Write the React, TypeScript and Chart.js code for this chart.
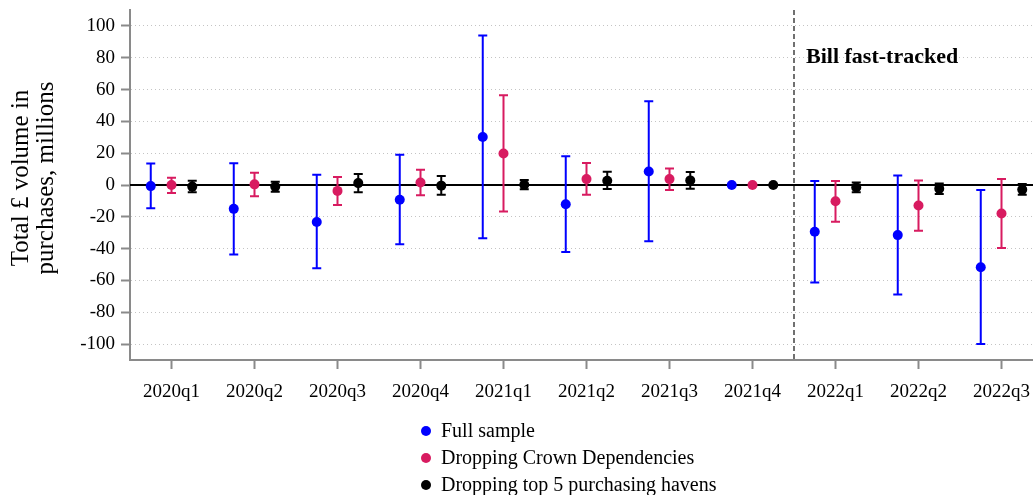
import React, { useEffect, useRef } from "react";
import { Chart, registerables } from "chart.js";

Chart.register(...registerables);

const categories = ["2020q1", "2020q2", "2020q3", "2020q4", "2021q1", "2021q2", "2021q3", "2021q4", "2022q1", "2022q2", "2022q3"];

const fullEst = [-0.7, -15, -23.3, -9.3, 30.2, -12.1, 8.5, 0, -29.4, -31.5, -51.7];
const fullHi = [13.5, 13.7, 6.4, 19, 93.9, 18.1, 52.7, 0, 2.5, 6, -3.1];
const fullLo = [-14.6, -43.7, -52.4, -37.2, -33.4, -42.1, -35.4, 0, -61.3, -68.8, -100];

const crownEst = [0, 0.4, -3.7, 1.6, 19.8, 3.7, 3.7, 0, -10.2, -12.9, -17.9];
const crownHi = [4.5, 7.7, 5, 9.6, 56.4, 13.9, 10.4, 0, 2.5, 2.9, 3.7];
const crownLo = [-5, -7, -12.5, -6.4, -16.7, -6.2, -3.1, 0, -23.1, -28.8, -39.6];

const havenEst = [-1, -1, 1.2, -0.4, 0.2, 2.7, 2.9, 0, -1.5, -2.3, -2.9];
const havenHi = [2.7, 2, 6.9, 5.6, 3.1, 8.3, 8.1, 0, 1.6, 1, 0.6];
const havenLo = [-4.5, -4.2, -4.6, -6.2, -2.7, -2.5, -2.3, 0, -4.6, -5.6, -6.2];

const yTicks = [-100, -80, -60, -40, -20, 0, 20, 40, 60, 80, 100];
const seriesNames = ["Full sample", "Dropping Crown Dependencies", "Dropping top 5 purchasing havens"];
const seriesColors = ["#0000ff", "#d81b60", "#000000"];
const seriesOffsets = [-0.25, 0, 0.25];
const eventPosition = 7.5;
const eventLabel = "Bill fast-tracked";
const yTitle = ["Total £ volume in", "purchases, millions"];

const FONT = "'Liberation Serif', serif";
const CANVAS_W = 1038;

const series = [
  { est: fullEst, hi: fullHi, lo: fullLo },
  { est: crownEst, hi: crownHi, lo: crownLo },
  { est: havenEst, hi: havenHi, lo: havenLo },
];

const decorPlugin = {
  id: "decor",
  beforeDatasetsDraw(chart: any) {
    const { ctx, chartArea, scales } = chart;
    const xs = scales.x;
    const ys = scales.y;
    ctx.save();
    ctx.strokeStyle = "#000";
    ctx.lineWidth = 2;
    ctx.setLineDash([]);
    const y0 = ys.getPixelForValue(0);
    ctx.beginPath();
    ctx.moveTo(chartArea.left, y0);
    ctx.lineTo(chartArea.right, y0);
    ctx.stroke();
    const xe = xs.getPixelForValue(eventPosition);
    ctx.strokeStyle = "#707070";
    ctx.lineWidth = 2;
    ctx.setLineDash([5, 3]);
    ctx.beginPath();
    ctx.moveTo(xe, chartArea.top);
    ctx.lineTo(xe, chartArea.bottom);
    ctx.stroke();
    ctx.setLineDash([]);
    series.forEach((s, si) => {
      ctx.strokeStyle = seriesColors[si];
      ctx.lineWidth = 2;
      s.est.forEach((_, i) => {
        if (s.hi[i] === s.lo[i]) return;
        const x = xs.getPixelForValue(i + seriesOffsets[si]);
        const yh = ys.getPixelForValue(s.hi[i]);
        const yl = ys.getPixelForValue(s.lo[i]);
        ctx.beginPath();
        ctx.moveTo(x, yh);
        ctx.lineTo(x, yl);
        ctx.moveTo(x - 4.5, yh);
        ctx.lineTo(x + 4.5, yh);
        ctx.moveTo(x - 4.5, yl);
        ctx.lineTo(x + 4.5, yl);
        ctx.stroke();
      });
    });
    ctx.fillStyle = "#000";
    ctx.font = `bold 22px ${FONT}`;
    ctx.textAlign = "left";
    ctx.textBaseline = "alphabetic";
    ctx.fillText(eventLabel, xe + 12, 63);
    ctx.restore();
  },
  afterDraw(chart: any) {
    const { ctx } = chart;
    ctx.save();
    ctx.fillStyle = "#000";
    ctx.font = `25px ${FONT}`;
    ctx.textAlign = "center";
    ctx.textBaseline = "alphabetic";
    const cy = 178;
    [28, 53].forEach((bx, li) => {
      ctx.save();
      ctx.translate(bx, cy);
      ctx.rotate(-Math.PI / 2);
      ctx.fillText(yTitle[li], 0, 0);
      ctx.restore();
    });
    ctx.font = `20px ${FONT}`;
    ctx.textAlign = "left";
    ctx.textBaseline = "middle";
    const rows = [431, 458, 485];
    seriesNames.forEach((name, i) => {
      ctx.fillStyle = seriesColors[i];
      ctx.beginPath();
      ctx.arc(426, rows[i], 5, 0, Math.PI * 2);
      ctx.fill();
      ctx.fillStyle = "#000";
      ctx.fillText(name, 441, rows[i] + 1);
    });
    ctx.restore();
  },
};

export default function App() {
  const ref = useRef<HTMLCanvasElement>(null);
  useEffect(() => {
    if (!ref.current) return;
    const datasets = series.map((s, si) => ({
      label: seriesNames[si],
      data: s.est.map((v, i) => ({ x: i + seriesOffsets[si], y: v })),
      backgroundColor: seriesColors[si],
      borderColor: seriesColors[si],
      pointRadius: 5,
      pointBorderWidth: 0,
      showLine: false,
    }));
    const chart = new Chart(ref.current, {
      type: "scatter",
      data: { datasets },
      plugins: [decorPlugin],
      options: {
        animation: false,
        responsive: false,
        devicePixelRatio: 1,
        layout: { padding: { top: 10, left: 0, right: 0, bottom: 0 } },
        plugins: { legend: { display: false }, tooltip: { enabled: false } },
        scales: {
          x: {
            type: "linear",
            min: -0.5,
            max: (1033 - 130) / 83 - 0.5,
            afterBuildTicks: (scale: any) => {
              scale.ticks = categories.map((_, i) => ({ value: i }));
            },
            afterFit: (scale: any) => {
              scale.height = 135;
            },
            ticks: {
              autoSkip: false,
              maxRotation: 0,
              padding: 0,
              color: "#000",
              font: { family: FONT, size: 19, lineHeight: 2.4 },
              callback: (v: any) => categories[v] ?? "",
            },
            grid: {
              drawOnChartArea: false,
              drawTicks: true,
              tickLength: 9,
              tickColor: "#8a8a8a",
              tickWidth: 2,
            },
            border: { display: true, color: "#8a8a8a", width: 2 },
          },
          y: {
            type: "linear",
            min: -110,
            max: 110,
            afterBuildTicks: (scale: any) => {
              scale.ticks = yTicks.map((v) => ({ value: v }));
            },
            afterFit: (scale: any) => {
              scale.width = 130;
              scale.paddingTop = 0;
              scale.paddingBottom = 0;
            },
            ticks: {
              padding: 6,
              color: "#000",
              font: { family: FONT, size: 19 },
              callback: (v: any) => String(v),
            },
            grid: {
              drawTicks: true,
              tickLength: 9,
              tickColor: "#8a8a8a",
              tickWidth: 2,
              lineWidth: 1,
              color: (c: any) => (c.tick && c.tick.value === 0 ? "rgba(0,0,0,0)" : "#c4c4c4"),
            },
            border: { display: true, color: "#8a8a8a", width: 2, dash: [1, 3] },
          },
        },
      } as any,
    });
    return () => chart.destroy();
  }, []);
  return (
    <div style={{ position: "fixed", left: 0, top: 0, width: 1033, height: 495, overflow: "hidden", background: "#fff" }}>
      <canvas ref={ref} width={CANVAS_W} height={495} style={{ display: "block" }} />
    </div>
  );
}
